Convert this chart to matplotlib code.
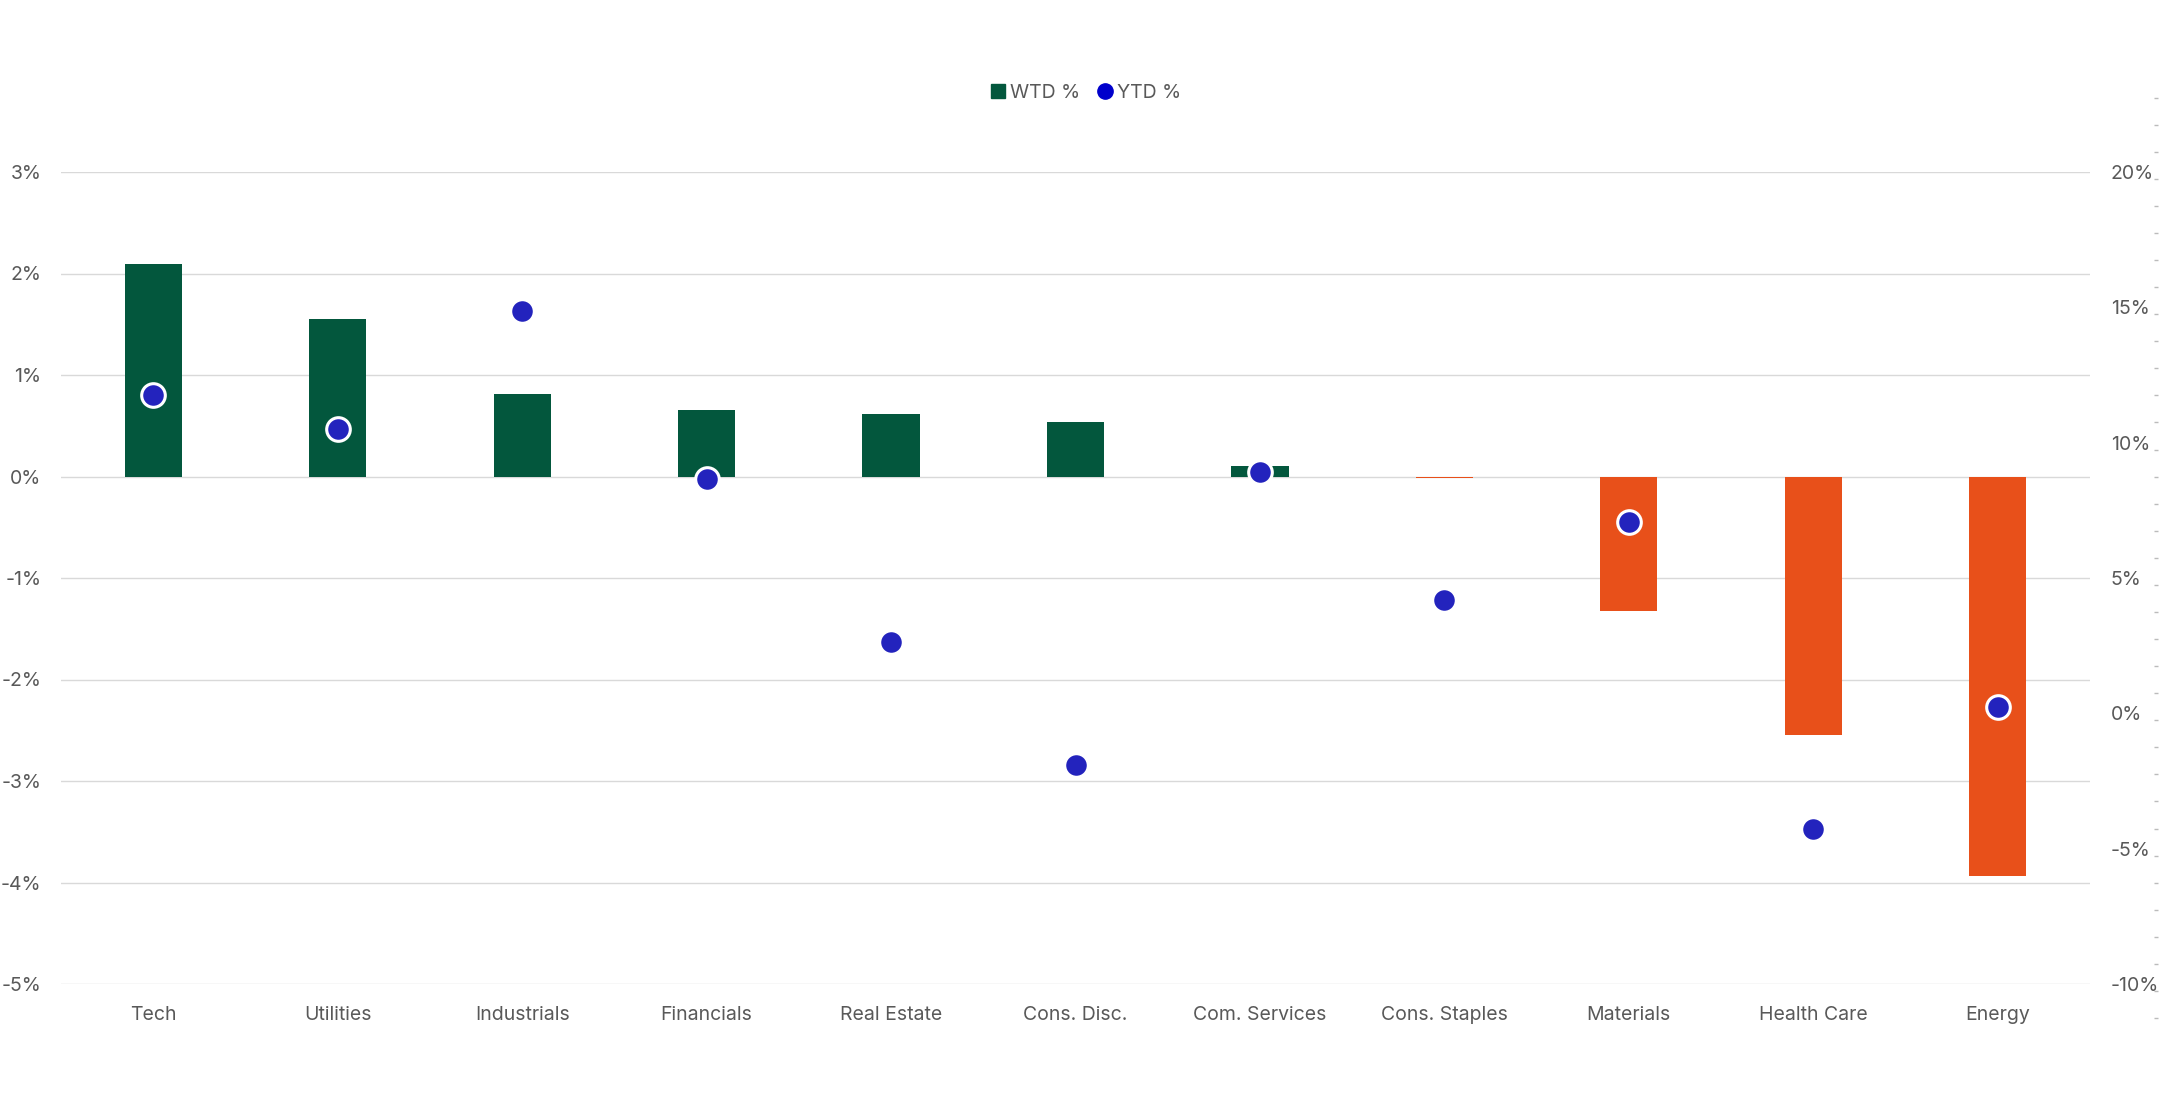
import matplotlib
matplotlib.use("Agg")
import matplotlib.pyplot as plt
from matplotlib.ticker import FuncFormatter, MultipleLocator
from matplotlib.lines import Line2D
import numpy as np

categories = ["Tech", "Utilities", "Industrials", "Financials", "Real Estate", "Cons. Disc.",
              "Com. Services", "Cons. Staples", "Materials", "Health Care", "Energy"]
wtd = [2.09, 1.55, 0.81, 0.66, 0.62, 0.54, 0.10, -0.015, -1.33, -2.55, -3.94]
ytd = [11.76, 10.49, 14.88, 8.66, 2.65, -1.91, 8.92, 4.19, 7.07, -4.26, 0.23]
left_ticks = [-5, -4, -3, -2, -1, 0, 1, 2, 3]
right_ticks = [-10, -5, 0, 5, 10, 15, 20]

GREEN = "#03573D"
ORANGE = "#E8501A"
BLUE = "#2323BD"
TEXT = "#595959"
GRID = "#D9D9D9"

plt.rcParams["font.family"] = ["Inter", "DejaVu Sans"]

W, H = 2160, 1106
fig = plt.figure(figsize=(W / 100, H / 100), dpi=100)
x0, x1 = 61, 2090
y_top, y_bot = 172, 984
ax = fig.add_axes([x0 / W, (H - y_bot) / H, (x1 - x0) / W, (y_bot - y_top) / H])

x = np.arange(len(categories))
colors = [GREEN if v >= 0 else ORANGE for v in wtd]
ax.bar(x, wtd, width=0.31, color=colors, zorder=2)
ax.set_xlim(-0.5, len(categories) - 0.5)
ax.set_ylim(-5, 3)
ax.set_yticks(left_ticks)
ax.yaxis.set_major_formatter(FuncFormatter(lambda v, p: f"{v:.0f}%"))
ax.set_xticks(x)
ax.set_xticklabels(categories)
ax.grid(axis="y", color=GRID, linewidth=1.0, zorder=0)
ax.set_axisbelow(True)
for s in ax.spines.values():
    s.set_visible(False)
ax.tick_params(axis="both", length=0, labelsize=14, colors=TEXT)
ax.tick_params(axis="y", pad=14)
ax.tick_params(axis="x", pad=16)

ax2 = ax.twinx()
ax2.set_ylim(-10, 20)
ax2.set_yticks(right_ticks)
ax2.yaxis.set_major_formatter(FuncFormatter(lambda v, p: f"{v:.0f}%"))
for s in ax2.spines.values():
    s.set_visible(False)
ax2.tick_params(axis="y", length=0, labelsize=14, colors=TEXT, pad=15)
ax2.plot(x, ytd, linestyle="none", marker="o", markersize=17, markerfacecolor=BLUE,
         markeredgecolor="white", markeredgewidth=2.2, zorder=5)

# faint minor tick marks at the far right edge
t_top, t_bot = 83, 1018
ax3 = fig.add_axes([2158 / W, (H - t_bot) / H, 0.0001, (t_bot - t_top) / H])
ax3.set_ylim(0, (t_bot - t_top) / 27.07)
ax3.yaxis.set_major_locator(MultipleLocator(1))
ax3.set_xticks([])
ax3.set_yticklabels([])
for s in ax3.spines.values():
    s.set_visible(False)
ax3.tick_params(axis="y", length=3, width=1, color="#BBBBBB", direction="out")
ax3.patch.set_visible(False)

handles = [
    Line2D([], [], linestyle="none", marker="s", markersize=10, markerfacecolor=GREEN,
           markeredgecolor=GREEN, label="WTD %"),
    Line2D([], [], linestyle="none", marker="o", markersize=11, markerfacecolor="#0000CC",
           markeredgecolor="#0000CC", label="YTD %"),
]
fig.legend(handles=handles, loc="center", bbox_to_anchor=(1084 / W, 1 - 93 / H), ncol=2,
           frameon=False, fontsize=14, labelcolor=TEXT, handletextpad=0.0,
           columnspacing=0.7, handlelength=1.2)

fig.savefig("out.png", dpi=100)
